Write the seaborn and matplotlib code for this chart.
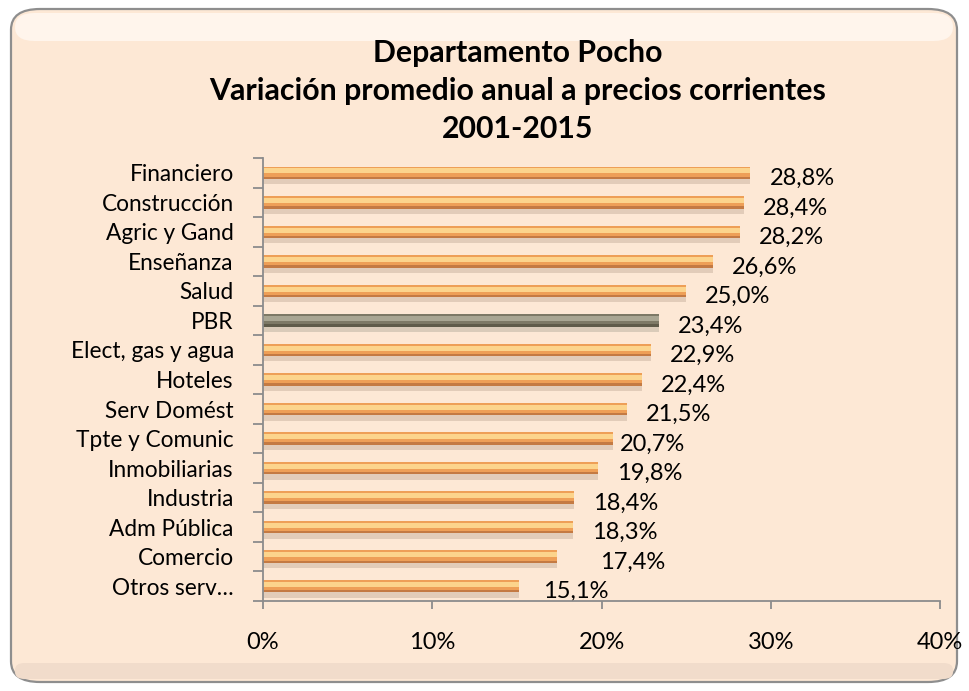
import matplotlib
matplotlib.use("Agg")
import matplotlib.pyplot as plt
import seaborn as sns
import pandas as pd
from matplotlib.patches import FancyBboxPatch
from matplotlib.ticker import FixedLocator
from matplotlib.transforms import ScaledTranslation

categories = ["Financiero", "Construcción", "Agric y Gand", "Enseñanza", "Salud", "PBR",
              "Elect, gas y agua", "Hoteles", "Serv Domést", "Tpte y Comunic",
              "Inmobiliarias", "Industria", "Adm Pública", "Comercio", "Otros serv…"]
values = [28.8, 28.4, 28.2, 26.6, 25.0, 23.4, 22.9, 22.4, 21.5, 20.7, 19.8, 18.4, 18.3, 17.4, 15.1]
value_labels = ["28,8%", "28,4%", "28,2%", "26,6%", "25,0%", "23,4%", "22,9%", "22,4%",
                "21,5%", "20,7%", "19,8%", "18,4%", "18,3%", "17,4%", "15,1%"]
x_ticks = [0, 10, 20, 30, 40]
x_tick_labels = ["0%", "10%", "20%", "30%", "40%"]
title_lines = ["Departamento Pocho", "Variación promedio anual a precios corrientes", "2001-2015"]

# manual horizontal nudges of some value labels (points), as in the original
label_nudge = {"Tpte y Comunic": -9, "Comercio": 17, "Otros serv…": 4}

sns.set_theme(style="white")
plt.rcParams["font.family"] = ["Lato", "DejaVu Sans"]

df = pd.DataFrame({"cat": categories, "val": values})

W, H = 969, 691
fig = plt.figure(figsize=(W / 100, H / 100), dpi=100)
fig.patch.set_facecolor("white")

# rounded frame
frame = FancyBboxPatch((11 / W, 9 / H), 946 / W, 673 / H,
                       boxstyle="round,pad=0,rounding_size=0.03",
                       transform=fig.transFigure, facecolor="#FDE8D5",
                       edgecolor="#8E8E8E", linewidth=1.6, zorder=-3)
fig.patches.append(frame)
top_glow = FancyBboxPatch((15 / W, 650 / H), 938 / W, 28 / H,
                          boxstyle="round,pad=0,rounding_size=0.02",
                          transform=fig.transFigure, facecolor="#FFF5EC",
                          edgecolor="none", linewidth=0, zorder=-2)
fig.patches.append(top_glow)
bottom_band = FancyBboxPatch((15 / W, 12 / H), 938 / W, 16 / H,
                             boxstyle="round,pad=0,rounding_size=0.01",
                             transform=fig.transFigure, facecolor="#F1DCCB",
                             edgecolor="none", linewidth=0, zorder=-2)
fig.patches.append(bottom_band)

ax = fig.add_axes([263 / W, (H - 601) / H, (940 - 263) / W, (601 - 158) / H])
ax.set_facecolor("none")
ax.set_zorder(1)

def pal(main, other):
    return {c: (other if c == "PBR" else main) for c in categories}

# (bar width, colours, vertical shift in px, alpha)
layers = [
    (0.44, pal("#DCC6B2", "#D2C4B3"), -5, 0.8),   # soft shadow
    (0.42, pal("#C47A43", "#5F5B4A"), 0, 1.0),
    (0.34, pal("#EE9F57", "#7D7966"), 1.2, 1.0),
    (0.17, pal("#FCD48C", "#A9A693"), 1.8, 1.0),
]
for w, p, dy, a in layers:
    n_before = len(ax.patches)
    sns.barplot(data=df, x="val", y="cat", hue="cat", palette=p, orient="h",
                width=w, legend=False, ax=ax, saturation=1, linewidth=0, alpha=a)
    if dy:
        off = ScaledTranslation(0, dy / 100, fig.dpi_scale_trans)
        for patch in ax.patches[n_before:]:
            patch.set_transform(ax.transData + off)

ax.set_xlim(0, 40)
ax.set_xticks(x_ticks)
ax.set_xticklabels(x_tick_labels)
ax.set_xlabel("")
ax.set_ylabel("")

for sp in ["top", "right"]:
    ax.spines[sp].set_visible(False)
for sp in ["left", "bottom"]:
    ax.spines[sp].set_color("#8C8C8C")
    ax.spines[sp].set_linewidth(1.3)
    ax.spines[sp].set_zorder(5)

ax.yaxis.set_minor_locator(FixedLocator([i - 0.5 for i in range(len(categories) + 1)]))
ax.tick_params(axis="y", which="major", length=0, pad=21, labelsize=16.3, labelcolor="black")
ax.tick_params(axis="y", which="minor", length=7, width=1.3, color="#8C8C8C", left=True)
ax.tick_params(axis="x", which="major", length=6, width=1.3, color="#8C8C8C", bottom=True,
               pad=16, labelsize=17, labelcolor="black")

for i, (c, v, lab) in enumerate(zip(categories, values, value_labels)):
    ax.annotate(lab, xy=(v, i), xytext=(13.7 + label_nudge.get(c, 0), -4),
                textcoords="offset points", ha="left", va="center",
                fontsize=17, color="black")

for k, line in enumerate(title_lines):
    fig.text(518 / W, (H - 62 - 38 * k) / H, line, ha="center", va="baseline",
             fontsize=21.8, fontweight="bold", color="black")

fig.savefig("out.png", dpi=100, facecolor="white")
